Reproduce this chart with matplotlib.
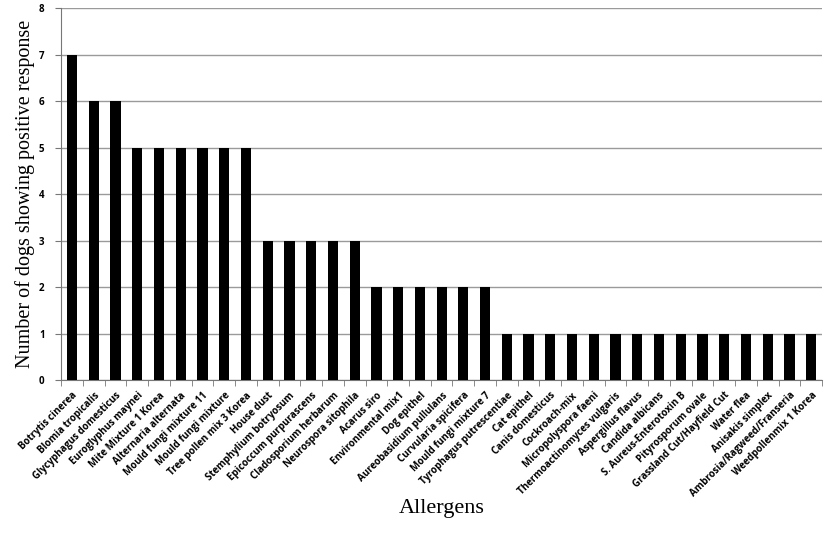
import matplotlib
matplotlib.use("Agg")
import matplotlib.pyplot as plt
import numpy as np

# === DATA ===
allergens = [
    "Botrytis cinerea", "Blomia tropicalis", "Glycyphagus domesticus",
    "Euroglyphus maynei", "Mite Mixture 1 Korea", "Alternaria alternata",
    "Mould fungi mixture 11", "Mould fungi mixture", "Tree pollen mix 3 Korea",
    "House dust", "Stemphylium botryosum", "Epicoccum purpurascens",
    "Cladosporium herbarum", "Neurospora sitophila", "Acarus siro",
    "Environmental mix1", "Dog epithel", "Aureobasidium pullulans",
    "Curvularia spicifera", "Mould fungi mixture 7", "Tyrophagus putrescentiae",
    "Cat epithel", "Canis domesticus", "Cockroach-mix", "Micropolyspora faeni",
    "Thermoactinomyces vulgaris", "Aspergillus flavus", "Candida albicans",
    "S. Aureus-Enterotoxin B", "Pityrosporum ovale", "Grassland Cut/Hayfield Cut",
    "Water flea", "Anisakis simplex", "Ambrosia/Ragweed/Franseria",
    "Weedpollenmix 1 Korea",
]
dogs = [7, 6, 6, 5, 5, 5, 5, 5, 5, 3, 3, 3, 3, 3, 2, 2, 2, 2, 2, 2,
        1, 1, 1, 1, 1, 1, 1, 1, 1, 1, 1, 1, 1, 1, 1]
y_ticks = [0, 1, 2, 3, 4, 5, 6, 7, 8]

fig = plt.figure(figsize=(8.27, 5.37), dpi=100)
ax = fig.add_axes([0.074, 0.292, 0.920, 0.693])

x = np.arange(len(allergens))
ax.bar(x, dogs, width=0.47, color="black", zorder=3)

ax.set_xlim(-0.5, len(allergens) - 0.5)
ax.set_ylim(0, 8)
ax.set_yticks(y_ticks)
ax.set_yticklabels([str(t) for t in y_ticks], fontsize=7, fontweight="bold",
                   family="Open Sans")
ax.yaxis.grid(True, color="#9a9a9a", linewidth=1.0, zorder=0)

# labels under the bars, tick marks on the category boundaries
ax.set_xticks(x)
ax.set_xticklabels(allergens, rotation=45, ha="right", rotation_mode="anchor",
                   fontsize=7, fontweight="bold", family="Open Sans")
ax.tick_params(axis="x", which="major", length=0, pad=7)
ax.set_xticks(np.arange(-0.5, len(allergens)), minor=True)
ax.tick_params(axis="x", which="minor", length=4, color="#777777", direction="out")
ax.tick_params(axis="y", length=4, color="#777777", pad=8)

for side in ["top", "right"]:
    ax.spines[side].set_visible(False)
ax.spines["left"].set_color("#777777")
ax.spines["bottom"].set_color("#777777")

ax.set_ylabel("Number of dogs showing positive response", fontsize=14.5,
              family="Liberation Serif", labelpad=3)
ax.set_xlabel("Allergens", fontsize=16, family="Liberation Serif", labelpad=0)

fig.savefig("out.png", dpi=100)
